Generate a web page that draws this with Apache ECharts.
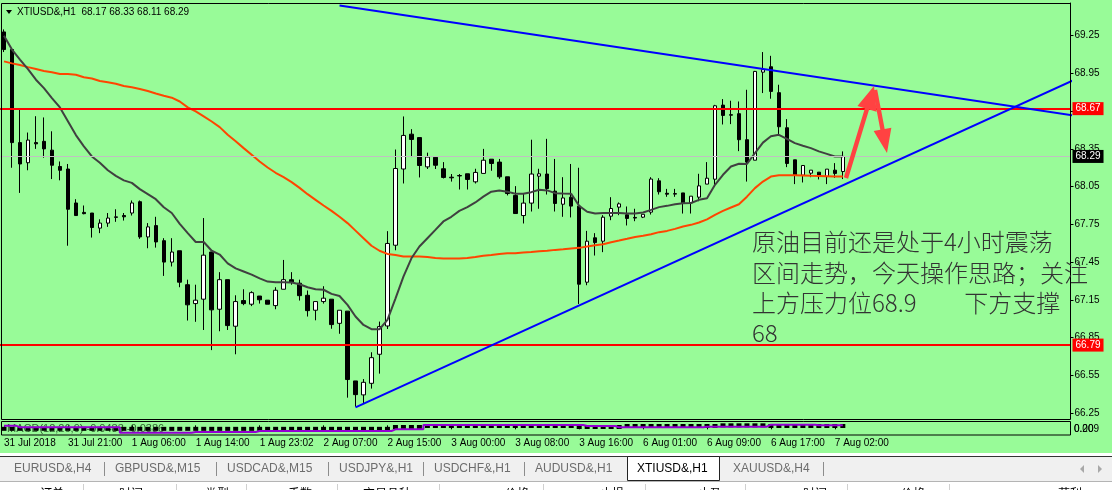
<!DOCTYPE html>
<html><head><meta charset="utf-8">
<script src="https://cdn.jsdelivr.net/npm/echarts@6/dist/echarts.min.js"></script>
<style>html,body{margin:0;padding:0;background:#fff;}#c{width:1112px;height:490px;}</style>
</head><body><div id="c"></div>
<script>
// ---------- DATA ----------
const symbolTitle = 'XTIUSD&,H1  68.17 68.33 68.11 68.29';
const timeLabels = ['31 Jul 2018','31 Jul 21:00','1 Aug 06:00','1 Aug 14:00','1 Aug 23:02','2 Aug 07:00','2 Aug 15:00','3 Aug 00:00','3 Aug 08:00','3 Aug 16:00','6 Aug 01:00','6 Aug 09:00','6 Aug 17:00','7 Aug 02:00'];
const opens = [69.28,69.14,68.40,68.24,68.40,68.41,68.34,68.21,68.19,67.92,
67.845,67.84,67.72,67.76,67.805,67.82,67.84,67.93,67.65,67.74,
67.62,67.45,67.54,67.27,67.12,67.155,67.53,67.075,67.31,66.94,
67.144,67.115,67.18,67.147,67.104,67.234,67.31,67.282,67.186,67.067,
67.136,67.155,66.963,67.06,66.505,66.394,66.486,66.717,66.942,67.584,
68.19,68.467,68.44,68.207,68.283,68.192,68.125,68.138,68.152,68.088,
68.155,68.268,68.245,68.128,67.98,67.82,67.919,68.133,68.15,68.014,
67.91,67.966,67.895,67.29,67.643,67.616,67.815,67.887,67.826,67.805,
67.807,67.847,68.096,67.997,67.99,68.0,67.921,67.966,68.07,68.109,
68.698,68.622,68.63,68.423,68.26,68.96,69.003,68.797,68.518,68.263,
68.141,68.157,68.165,68.13,68.181,68.17];
const highs = [69.30,69.15,68.66,68.48,68.61,68.60,68.49,68.25,68.23,67.95,
67.90,67.84,67.79,67.84,67.87,67.84,67.94,67.94,67.76,67.81,
67.64,67.64,67.54,67.31,67.27,67.80,67.53,67.37,67.31,67.186,
67.234,67.218,67.18,67.147,67.25,67.467,67.37,67.31,67.224,67.136,
67.258,67.155,67.067,67.06,66.505,66.52,66.733,66.977,67.696,68.345,
68.608,68.507,68.44,68.32,68.29,68.245,68.15,68.15,68.152,68.192,
68.35,68.268,68.27,68.128,68.054,67.995,68.423,68.192,68.43,68.27,
68.125,68.23,68.20,67.698,67.68,67.823,67.966,67.924,67.892,67.874,
67.83,68.125,68.117,68.032,68.032,68.0,67.974,68.152,68.245,68.70,
68.746,68.733,68.727,68.82,68.97,69.12,69.09,68.86,68.587,68.263,
68.218,68.181,68.165,68.189,68.237,68.33];
const lows = [69.12,68.20,68.00,68.18,68.35,68.28,68.11,68.10,67.58,67.82,
67.83,67.645,67.68,67.73,67.77,67.78,67.82,67.635,67.56,67.565,
67.34,67.415,67.25,66.985,66.975,66.91,66.75,66.90,66.91,66.717,
67.107,67.10,67.12,67.115,67.075,67.234,67.27,67.144,67.017,66.987,
67.12,66.92,66.88,66.372,66.30,66.33,66.444,66.563,66.918,67.544,
68.075,68.285,68.123,68.19,68.19,68.115,68.09,68.027,68.027,68.075,
68.155,68.176,68.112,67.98,67.836,67.757,67.852,67.874,67.987,67.852,
67.81,67.805,67.117,67.266,67.502,67.529,67.783,67.823,67.741,67.775,
67.80,67.828,67.987,67.969,67.969,67.836,67.836,67.934,68.07,68.05,
68.544,68.547,68.332,68.09,68.26,68.794,68.749,68.462,68.205,68.07,
68.083,68.125,68.107,68.07,68.12,68.11];
const closes = [69.14,68.40,68.23,68.42,68.39,68.35,68.22,68.18,67.87,67.82,
67.835,67.725,67.76,67.80,67.81,67.81,67.92,67.65,67.73,67.61,
67.45,67.53,67.29,67.11,67.147,67.505,67.07,67.31,66.945,67.136,
67.12,67.207,67.15,67.115,67.226,67.31,67.29,67.183,67.064,67.136,
67.163,66.953,67.067,66.516,66.396,66.494,66.69,66.937,67.598,68.194,
68.457,68.425,68.218,68.285,68.22,68.123,68.12,68.135,68.107,68.163,
68.26,68.234,68.128,67.995,67.836,67.919,68.15,68.152,68.035,67.916,
67.96,67.895,67.274,67.616,67.605,67.807,67.876,67.913,67.797,67.80,
67.83,68.11,68.009,67.99,67.995,67.921,67.974,68.056,68.117,68.693,
68.616,68.618,68.423,68.245,68.966,68.98,68.807,68.526,68.234,68.141,
68.218,68.181,68.133,68.189,68.155,68.29];
const maFast = [69.25,69.14,69.06,68.985,68.90,68.833,68.754,68.68,68.57,68.46,
68.37,68.29,68.24,68.18,68.136,68.10,68.08,68.03,67.99,67.95,
67.886,67.84,67.754,67.68,67.61,67.61,67.54,67.51,67.44,67.40,
67.375,67.35,67.32,67.295,67.29,67.29,67.287,67.274,67.25,67.234,
67.23,67.197,67.18,67.11,67.017,66.95,66.916,66.916,66.99,67.16,
67.335,67.48,67.574,67.64,67.706,67.773,67.81,67.857,67.887,67.924,
67.97,68.01,68.02,68.01,67.993,67.993,68.006,68.025,68.02,67.998,
67.995,67.993,67.897,67.85,67.836,67.84,67.84,67.84,67.836,67.836,
67.844,67.865,67.887,67.897,67.91,67.918,67.92,67.945,67.958,68.064,
68.144,68.21,68.232,68.23,68.316,68.40,68.45,68.462,68.43,68.396,
68.375,68.356,68.33,68.31,68.29,68.29];
const maSlow = [69.046,69.03,69.017,69.0,68.985,68.97,68.96,68.945,68.945,68.94,
68.92,68.91,68.89,68.88,68.868,68.85,68.84,68.826,68.81,68.79,
68.773,68.757,68.727,68.68,68.648,68.608,68.568,68.523,68.462,68.41,
68.356,68.303,68.25,68.202,68.16,68.125,68.086,68.04,67.99,67.945,
67.9,67.857,67.81,67.76,67.7,67.64,67.58,67.54,67.515,67.507,
67.494,67.494,67.494,67.49,67.483,67.478,67.478,67.478,67.483,67.49,
67.5,67.507,67.515,67.52,67.52,67.526,67.53,67.537,67.54,67.547,
67.552,67.558,67.563,67.574,67.584,67.592,67.608,67.621,67.635,67.65,
67.659,67.672,67.688,67.698,67.714,67.733,67.746,67.765,67.79,67.826,
67.857,67.884,67.91,67.97,68.038,68.09,68.13,68.14,68.14,68.14,
68.138,68.136,68.135,68.133,68.13,68.13];
const macdHist = [-0.105,-0.105,-0.105,-0.105,-0.105,-0.105,-0.105,-0.105,-0.105,-0.105,
-0.105,-0.105,-0.105,-0.105,-0.105,-0.105,-0.105,-0.105,-0.105,-0.105,
-0.105,-0.105,-0.105,-0.105,-0.105,-0.105,-0.105,-0.105,-0.105,-0.105,
-0.105,-0.105,-0.105,-0.105,-0.105,-0.105,-0.105,-0.105,-0.105,-0.105,
-0.105,-0.105,-0.105,-0.105,-0.105,-0.105,-0.105,-0.105,-0.105,-0.05,
-0.05,-0.05,-0.05,-0.02,-0.02,-0.02,-0.02,-0.02,-0.02,-0.02,
-0.02,-0.02,-0.02,-0.02,-0.02,-0.02,-0.02,-0.02,-0.02,-0.02,
-0.02,-0.02,-0.05,-0.05,-0.05,-0.05,-0.05,-0.05,-0.02,-0.02,
-0.02,-0.02,-0.02,-0.02,-0.02,-0.02,-0.02,-0.02,-0.02,-0.02,
0.0,0.0,0.0,0.0,0.0,0.0,-0.02,-0.02,-0.02,-0.02,
-0.02,-0.02,-0.02,-0.02,-0.02,-0.02];
const macdSignal = [-0.01,-0.01,-0.06,-0.06,-0.06,-0.06,-0.06,-0.06,-0.06,-0.06,
-0.06,-0.06,-0.06,-0.06,-0.06,-0.22,-0.22,-0.22,-0.22,-0.22,
-0.22,-0.22,-0.22,-0.22,-0.20,-0.20,-0.20,-0.20,-0.20,-0.20,
-0.20,-0.20,-0.17,-0.17,-0.17,-0.17,-0.17,-0.17,-0.17,-0.17,
-0.17,-0.17,-0.17,-0.17,-0.17,-0.17,-0.17,-0.17,-0.17,-0.12,
-0.12,-0.12,-0.12,0.01,0.01,0.01,0.01,0.01,0.01,0.01,
0.01,0.01,0.01,0.01,0.01,0.01,0.01,0.01,0.01,0.01,
0.01,0.01,0.01,-0.02,-0.02,-0.02,-0.02,-0.06,-0.06,-0.06,
-0.06,-0.06,-0.06,-0.06,-0.06,-0.06,-0.06,-0.06,-0.04,-0.04,
-0.04,-0.04,-0.04,-0.04,-0.04,-0.04,0.02,0.02,0.02,0.02,
0.02,0.02,0.0,0.0,0.0,0.0];
const resistanceLevel = 68.67;
const supportLevel = 66.79;
const lastPrice = 68.29;
const upperTrend = [[42, 69.49], [133.5, 68.615]];
const lowerTrend = [[44, 66.295], [133.5, 68.90]];
const slotCount = 134;
const annotation = ['原油目前还是处于4小时震荡', '区间走势，今天操作思路；关注', '上方压力位68.9         下方支撑', '68'];
const tabs = [['EURUSD&,H4', 14], ['GBPUSD&,M15', 115], ['USDCAD&,M15', 227], ['USDJPY&,H1', 339], ['USDCHF&,H1', 434], ['AUDUSD&,H1', 535], ['XTIUSD&,H1', 637], ['XAUUSD&,H4', 733]];
const activeTab = 'XTIUSD&,H1';
const tabSeparators = [104, 216, 328, 423, 524, 823];
const columnHeads = [['订单', 64], ['时间', 143], ['类型', 229], ['手数', 312], ['交易品种', 411], ['价格', 529], ['止损', 624], ['止盈', 722], ['时间', 827], ['价格', 925], ['获利', 1082]];
const columnSeps = [83, 176, 246, 337, 439, 543, 645, 745, 847, 949];

// ---------- CHART ----------
const chart = echarts.init(document.getElementById('c'), null, {renderer: 'canvas'});
const cats = Array.from({length: slotCount}, (_, i) => String(i));
const candles = opens.map((o, i) => [o, closes[i], lows[i], highs[i]]);
const FONT = "'Liberation Sans', Arial, sans-serif";

function arrowPts(bx, by, tx, ty, headLen, headHalf, shaftHalf) {
  const dx = tx - bx, dy = ty - by, L = Math.hypot(dx, dy), ux = dx / L, uy = dy / L, nx = -uy, ny = ux;
  const hx = tx - ux * headLen, hy = ty - uy * headLen;
  return [[bx + nx * shaftHalf, by + ny * shaftHalf], [hx + nx * shaftHalf, hy + ny * shaftHalf], [hx + nx * headHalf, hy + ny * headHalf], [tx, ty], [hx - nx * headHalf, hy - ny * headHalf], [hx - nx * shaftHalf, hy - ny * shaftHalf], [bx - nx * shaftHalf, by - ny * shaftHalf]];
}

const priceTag = (txt, bg, fg) => ({
  show: true, position: 'end', formatter: txt, distance: 2, backgroundColor: bg, color: fg,
  fontFamily: FONT, fontSize: 10, padding: [2, 3, 1, 3]
});

const graphics = [
  {type: 'rect', shape: {x: 0, y: 0, width: 1112, height: 453}, style: {fill: '#98fb98'}, z: -100, silent: true},
  {type: 'rect', shape: {x: 1.5, y: 3.5, width: 1069, height: 416}, style: {fill: 'none', stroke: '#000', lineWidth: 1}, z: 50, silent: true},
  {type: 'rect', shape: {x: 1.5, y: 421.5, width: 1069, height: 13.5}, style: {fill: 'none', stroke: '#000', lineWidth: 1}, z: 50, silent: true},
  {type: 'polygon', shape: {points: [[6, 10], [12, 10], [9, 14]]}, style: {fill: '#000'}, z: 50},
  {type: 'text', x: 17, y: 12, style: {text: symbolTitle, font: '10px ' + FONT, fill: '#000', textVerticalAlign: 'middle'}, z: 50},
  {type: 'text', x: 7, y: 429, style: {text: 'MACD(12,26,9) -0.0483 -0.0386', font: '11px ' + FONT, fill: '#2f5f2f', textVerticalAlign: 'middle'}, z: -1},
  {type: 'text', x: 1074, y: 429, style: {text: '0.209', font: '10px ' + FONT, fill: '#000', textVerticalAlign: 'middle'}, z: 50},
  {type: 'text', x: 1074, y: 429, style: {text: '0.00', font: '10px ' + FONT, fill: '#000', textVerticalAlign: 'middle'}, z: 50},
  // annotation
  {type: 'text', x: 752, y: 242, style: {text: annotation[0], font: "300 24px 'Noto Sans CJK SC'", fill: '#333', textVerticalAlign: 'middle'}, z: 60},
  {type: 'text', x: 752, y: 273, style: {text: annotation[1], font: "300 24px 'Noto Sans CJK SC'", fill: '#333', textVerticalAlign: 'middle'}, z: 60},
  {type: 'text', x: 752, y: 303, style: {text: annotation[2], font: "300 24px 'Noto Sans CJK SC'", fill: '#333', textVerticalAlign: 'middle'}, z: 60},
  {type: 'text', x: 752, y: 333, style: {text: annotation[3], font: "300 24px 'Noto Sans CJK SC'", fill: '#333', textVerticalAlign: 'middle'}, z: 60},
  // red arrows
  {type: 'polygon', shape: {points: arrowPts(846, 178, 874, 86, 24, 10, 2.2)}, style: {fill: '#ff4242'}, z: 60},
  {type: 'polygon', shape: {points: arrowPts(875, 90, 887, 153, 24, 9, 2.2)}, style: {fill: '#ff4242'}, z: 60},
  // tab bar
  {type: 'rect', shape: {x: 0, y: 456, width: 1112, height: 1}, style: {fill: '#333'}, z: 40},
  {type: 'rect', shape: {x: 0, y: 457, width: 1112, height: 24}, style: {fill: '#f0f0f0'}, z: 40},
  {type: 'rect', shape: {x: 0, y: 481, width: 1112, height: 1}, style: {fill: '#b4b4b4'}, z: 41},
  {type: 'rect', shape: {x: 627.5, y: 456.5, width: 92, height: 24}, style: {fill: '#fff', stroke: '#222', lineWidth: 1}, z: 42},
  {type: 'polygon', shape: {points: [[1084, 465], [1084, 473], [1080, 469]]}, style: {fill: '#a8a8a8'}, z: 42},
  {type: 'polygon', shape: {points: [[1098, 465], [1098, 473], [1102, 469]]}, style: {fill: '#a8a8a8'}, z: 42}
];
tabs.forEach(([t, x]) => graphics.push({type: 'text', x: x, y: 469, style: {text: t, font: '12px ' + FONT, fill: t === activeTab ? '#000' : '#6d6d6d', textVerticalAlign: 'middle'}, z: 45}));
tabSeparators.forEach(x => graphics.push({type: 'rect', shape: {x: x, y: 462, width: 1, height: 14}, style: {fill: '#8c8c8c'}, z: 45}));
columnHeads.forEach(([t, x]) => graphics.push({type: 'text', x: x, y: 487, style: {text: t, font: "12px 'Noto Sans CJK SC'", fill: '#000', textAlign: 'right', textVerticalAlign: 'top'}, z: 45}));
columnSeps.forEach(x => graphics.push({type: 'rect', shape: {x: x, y: 484, width: 1, height: 6}, style: {fill: '#d0d0d0'}, z: 45}));

const option = {
  animation: false,
  backgroundColor: '#fff',
  grid: [
    {left: -1.5, right: 41.5, top: 3, height: 410},
    {left: -1.5, right: 41.5, top: 422, height: 13}
  ],
  xAxis: [
    {type: 'category', gridIndex: 0, data: cats, boundaryGap: true, show: false},
    {type: 'category', gridIndex: 1, data: cats, boundaryGap: true,
      axisLine: {show: false},
      axisTick: {show: true, alignWithLabel: true, length: 4, lineStyle: {color: '#000'},
        interval: (i) => i % 8 === 0 && i / 8 < timeLabels.length},
      axisLabel: {show: true, interval: (i) => i % 8 === 0 && i / 8 < timeLabels.length,
        formatter: (v) => { const i = +v; return (i % 8 === 0 && timeLabels[i / 8]) ? timeLabels[i / 8] : ''; },
        align: 'left', margin: 3, fontSize: 10, color: '#000', fontFamily: FONT},
      splitLine: {show: false}}
  ],
  yAxis: [
    {type: 'value', gridIndex: 0, position: 'right', min: 66.25, max: 69.51, interval: 0.3, scale: true,
      axisLine: {show: true, lineStyle: {color: '#000'}},
      axisTick: {show: true, length: 3, lineStyle: {color: '#000'}},
      axisLabel: {margin: 4, fontSize: 10, color: '#000', fontFamily: FONT, showMaxLabel: false, formatter: (v) => v.toFixed(2)},
      splitLine: {show: false}},
    {type: 'value', gridIndex: 1, min: -0.29, max: 0.10, show: false, splitLine: {show: false}}
  ],
  series: [
    {type: 'candlestick', name: 'XTIUSD', xAxisIndex: 0, yAxisIndex: 0, data: candles, barWidth: 4, z: 3,
      itemStyle: {color: '#ffffff', color0: '#000000', borderColor: '#000000', borderColor0: '#000000', borderColorDoji: '#000000', borderWidth: 1},
      emphasis: {disabled: true},
      markLine: {silent: true, symbol: ['none', 'none'], z: 5,
        data: [
          {yAxis: lastPrice, lineStyle: {color: '#c0c0c0', width: 1, type: 'solid'}, label: priceTag(String(lastPrice), '#000', '#fff')},
          {yAxis: resistanceLevel, lineStyle: {color: '#ff0000', width: 2, type: 'solid'}, label: priceTag(String(resistanceLevel), '#ff0000', '#fff')},
          {yAxis: supportLevel, lineStyle: {color: '#ff0000', width: 2, type: 'solid'}, label: priceTag(String(supportLevel), '#ff0000', '#fff')}
        ]}},
    {type: 'line', name: 'MA slow', xAxisIndex: 0, yAxisIndex: 0, data: maSlow, symbol: 'none', z: 4,
      lineStyle: {color: '#ff4500', width: 2}, emphasis: {disabled: true}},
    {type: 'line', name: 'MA fast', xAxisIndex: 0, yAxisIndex: 0, data: maFast, symbol: 'none', z: 4,
      lineStyle: {color: '#404040', width: 2}, emphasis: {disabled: true}},
    {type: 'line', name: 'upper trend', xAxisIndex: 0, yAxisIndex: 0, data: upperTrend, symbol: 'none', z: 6,
      lineStyle: {color: '#0000ff', width: 2}, emphasis: {disabled: true}},
    {type: 'line', name: 'lower trend', xAxisIndex: 0, yAxisIndex: 0, data: lowerTrend, symbol: 'none', z: 6,
      lineStyle: {color: '#0000ff', width: 2}, emphasis: {disabled: true}},
    {type: 'scatter', name: 'MACD', xAxisIndex: 1, yAxisIndex: 1, data: macdHist, symbol: 'rect', symbolSize: [5, 4], z: 3,
      itemStyle: {color: '#000', opacity: 1}, emphasis: {disabled: true}},
    {type: 'line', name: 'Signal', xAxisIndex: 1, yAxisIndex: 1, data: macdSignal, symbol: 'none', step: 'middle', z: 4,
      lineStyle: {color: '#9400d3', width: 2}, emphasis: {disabled: true}}
  ],
  graphic: {elements: graphics}
};
chart.setOption(option);
</script>
</body></html>
